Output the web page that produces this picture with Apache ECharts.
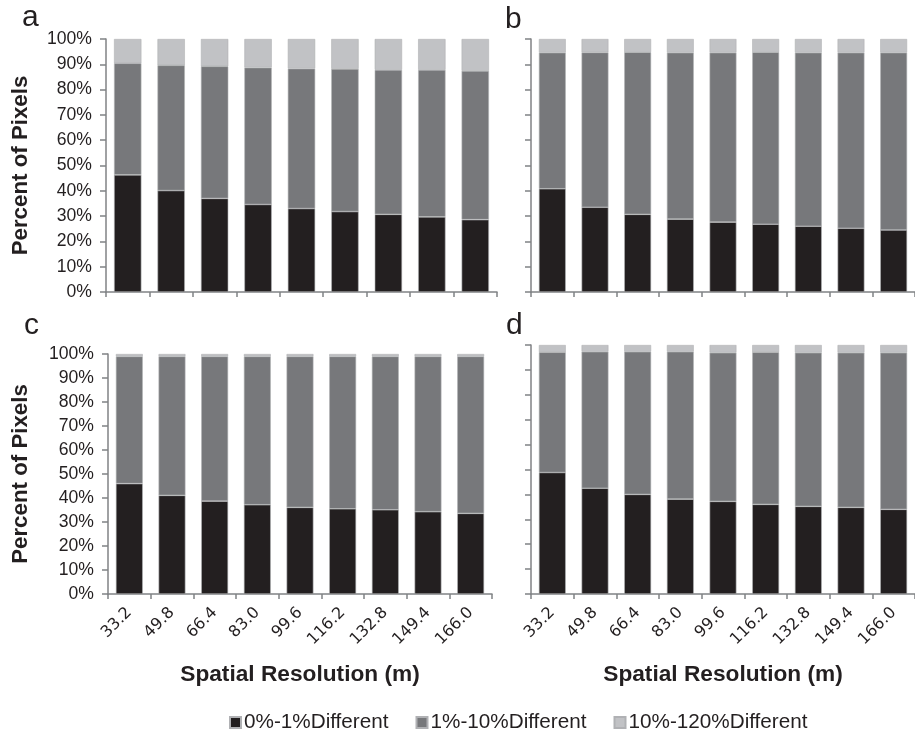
<!DOCTYPE html>
<html>
<head>
<meta charset="utf-8">
<script src="https://cdn.jsdelivr.net/npm/echarts@6/dist/echarts.min.js"></script>
<style>html,body{margin:0;padding:0;background:#fff}#c{width:915px;height:731px}</style>
</head>
<body>
<div id="c"></div>
<script>
const categories = ['33.2','49.8','66.4','83.0','99.6','116.2','132.8','149.4','166.0'];
const seriesNames = ['0%-1%Different','1%-10%Different','10%-120%Different'];
const yTicks = [0,10,20,30,40,50,60,70,80,90,100];

const aLow  = [46.3, 40.1, 37.0, 34.6, 33.0, 31.8, 30.7, 29.7, 28.6];
const aMid  = [44.1, 49.5, 52.2, 54.1, 55.3, 56.4, 57.1, 58.1, 58.8];
const aHigh = [9.6, 10.4, 10.8, 11.3, 11.7, 11.8, 12.2, 12.2, 12.6];

const bLow  = [40.8, 33.5, 30.7, 28.8, 27.6, 26.8, 26.0, 25.2, 24.5];
const bMid  = [53.8, 61.2, 64.1, 65.8, 67.0, 68.0, 68.6, 69.4, 70.1];
const bHigh = [5.4, 5.3, 5.2, 5.4, 5.4, 5.2, 5.4, 5.4, 5.4];

const cLow  = [46.0, 41.1, 38.7, 37.2, 36.1, 35.5, 35.1, 34.3, 33.6];
const cMid  = [53.0, 57.9, 60.3, 61.8, 62.9, 63.5, 63.9, 64.7, 65.4];
const cHigh = [1.0, 1.0, 1.0, 1.0, 1.0, 1.0, 1.0, 1.0, 1.0];

const dLow  = [48.8, 42.5, 40.0, 38.1, 37.2, 36.0, 35.2, 34.8, 34.0];
const dMid  = [48.3, 54.8, 57.3, 59.2, 59.7, 61.1, 61.7, 62.1, 62.9];
const dHigh = [2.9, 2.7, 2.7, 2.7, 3.1, 2.9, 3.1, 3.1, 3.1];

const panelLetters = ['a','b','c','d'];
const colors = ['#231f20','#77787b','#c1c2c5'];
const axisCol = '#808285';
const txtCol = '#231f20';

const panels = [
  {low:aLow, mid:aMid, high:aHigh},
  {low:bLow, mid:bMid, high:bHigh},
  {low:cLow, mid:cMid, high:cHigh},
  {low:dLow, mid:dMid, high:dHigh}
];

const grids = [
  {left:106, top:39, width:391, height:253},
  {left:531, top:39, width:392, height:253},
  {left:108, top:354, width:384, height:240},
  {left:531, top:345, width:389, height:249}
];
const yNameGaps = [74, 0, 76, 0];

const xAxes = grids.map((g,i)=>({
  type:'category', gridIndex:i, data:categories,
  axisLine:{lineStyle:{color:axisCol,width:1.5}},
  axisTick:{show:true,length:5,lineStyle:{color:axisCol,width:1.5}},
  axisLabel:{show:i>=2, rotate:45, fontSize:16, fontFamily:'DejaVu Sans', color:txtCol, margin:16},
  name: i>=2 ? 'Spatial Resolution (m)' : '',
  nameLocation:'middle', nameGap:69,
  nameTextStyle:{fontSize:22.7, fontWeight:'bold', fontFamily:'Liberation Sans', color:txtCol}
}));

const yAxes = grids.map((g,i)=>({
  type:'value', gridIndex:i, min:0, max:100, interval:10,
  splitLine:{show:false},
  axisLine:{show:true, lineStyle:{color:axisCol,width:1.5}},
  axisTick:{show:true,length:6,lineStyle:{color:axisCol,width:1.5}},
  axisLabel:{show:i%2===0, formatter:v=>yTicks.includes(v)? v+'%':'', fontSize:17.6, fontFamily:'Liberation Sans', color:txtCol, margin:14},
  name: i%2===0 ? 'Percent of Pixels' : '',
  nameLocation:'middle', nameGap:yNameGaps[i], nameRotate:90,
  nameTextStyle:{fontSize:22.3, fontWeight:'bold', fontFamily:'Liberation Sans', color:txtCol}
}));

const series = [];
panels.forEach((p,i)=>{
  [p.low,p.mid,p.high].forEach((arr,k)=>{
    series.push({
      type:'bar', name:seriesNames[k], xAxisIndex:i, yAxisIndex:i,
      stack:'s'+i, data:arr, barWidth:'63%',
      itemStyle:{color:colors[k], borderColor:'#b0b1b4', borderWidth:0.6},
      emphasis:{disabled:true}, animation:false
    });
  });
});

const letterPos = [[22,3],[505,5],[24,311],[506,311]];
const graphics = panelLetters.map((t,i)=>({
  type:'text', left:letterPos[i][0], top:letterPos[i][1],
  style:{text:t, fontSize:30, fontFamily:'Liberation Sans', fill:txtCol}
}));

const chart = echarts.init(document.getElementById('c'), null, {renderer:'canvas'});
chart.setOption({
  backgroundColor:'#fff',
  animation:false,
  grid:grids,
  xAxis:xAxes,
  yAxis:yAxes,
  series:series,
  graphic:graphics,
  legend:{
    data:seriesNames, left:224, top:707, itemWidth:11, itemHeight:11, itemGap:27,
    icon:'rect',
    textStyle:{fontSize:20.7, fontFamily:'Liberation Sans', color:txtCol, padding:[0,0,0,-2]}
  }
});
</script>
</body>
</html>
